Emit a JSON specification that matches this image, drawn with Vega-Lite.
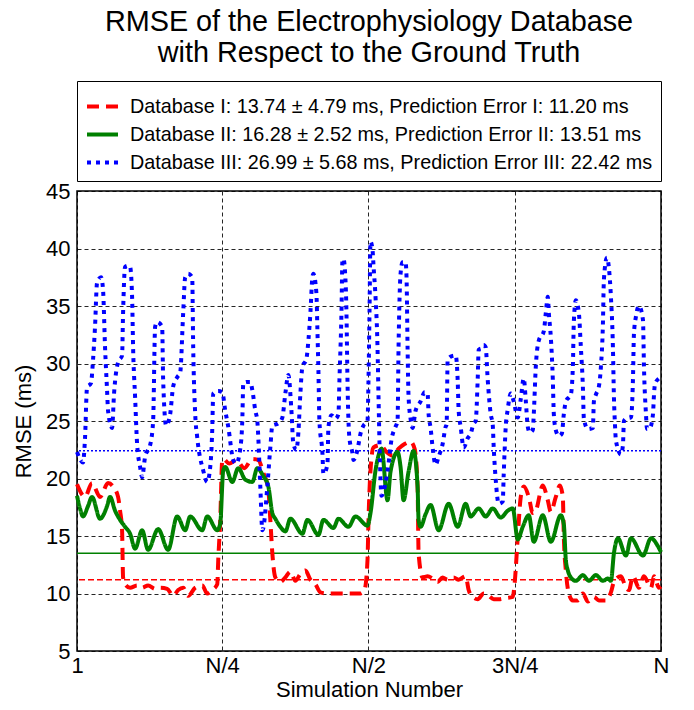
{
  "$schema": "https://vega.github.io/schema/vega-lite/v6.json",
  "width": 584,
  "height": 460,
  "autosize": {"type": "none"},
  "padding": {"left": 77, "top": 191, "right": 33, "bottom": 59},
  "title": {
    "text": ["RMSE of the Electrophysiology Database", "with Respect to the Ground Truth"],
    "font": "Liberation Sans",
    "fontSize": 28.8,
    "fontWeight": "normal",
    "color": "black",
    "lineHeight": 31,
    "anchor": "middle",
    "offset": 13
  },
  "datasets": {
    "errors": [
      {"series": "Database I", "error": 11.20},
      {"series": "Database II", "error": 13.51},
      {"series": "Database III", "error": 22.42}
    ],
    "curves": [
      {"series":"Database I","sim":1,"rmse":19.5},{"series":"Database I","sim":9,"rmse":18.4},{"series":"Database I","sim":16,"rmse":19.6},{"series":"Database I","sim":24,"rmse":18.4},{"series":"Database I","sim":32,"rmse":19.6},{"series":"Database I","sim":37,"rmse":19.3},{"series":"Database I","sim":42,"rmse":18.4},{"series":"Database I","sim":44,"rmse":17.2},{"series":"Database I","sim":46,"rmse":15.5},{"series":"Database I","sim":47,"rmse":11.4},{"series":"Database I","sim":49,"rmse":10.8},{"series":"Database I","sim":54,"rmse":10.5},{"series":"Database I","sim":61,"rmse":10.7},{"series":"Database I","sim":66,"rmse":10.5},{"series":"Database I","sim":72,"rmse":10.7},{"series":"Database I","sim":79,"rmse":10.4},{"series":"Database I","sim":84,"rmse":10.5},{"series":"Database I","sim":91,"rmse":10.4},{"series":"Database I","sim":97,"rmse":9.8},{"series":"Database I","sim":102,"rmse":10.3},{"series":"Database I","sim":107,"rmse":10.5},{"series":"Database I","sim":112,"rmse":9.8},{"series":"Database I","sim":119,"rmse":10.5},{"series":"Database I","sim":126,"rmse":10.7},{"series":"Database I","sim":131,"rmse":10.0},{"series":"Database I","sim":136,"rmse":10.3},{"series":"Database I","sim":141,"rmse":10.8},{"series":"Database I","sim":142,"rmse":12.9},{"series":"Database I","sim":144,"rmse":16.4},{"series":"Database I","sim":146,"rmse":21.6},{"series":"Database I","sim":147,"rmse":21.7},{"series":"Database I","sim":153,"rmse":21.3},{"series":"Database I","sim":160,"rmse":21.6},{"series":"Database I","sim":168,"rmse":20.9},{"series":"Database I","sim":176,"rmse":21.7},{"series":"Database I","sim":182,"rmse":21.6},{"series":"Database I","sim":187,"rmse":20.5},{"series":"Database I","sim":192,"rmse":19.0},{"series":"Database I","sim":194,"rmse":16.4},{"series":"Database I","sim":196,"rmse":13.5},{"series":"Database I","sim":199,"rmse":11.4},{"series":"Database I","sim":204,"rmse":11.0},{"series":"Database I","sim":209,"rmse":11.4},{"series":"Database I","sim":214,"rmse":11.9},{"series":"Database I","sim":219,"rmse":11.1},{"series":"Database I","sim":224,"rmse":11.7},{"series":"Database I","sim":229,"rmse":12.0},{"series":"Database I","sim":234,"rmse":11.2},{"series":"Database I","sim":239,"rmse":10.8},{"series":"Database I","sim":244,"rmse":10.1},{"series":"Database I","sim":251,"rmse":10.0},{"series":"Database I","sim":261,"rmse":10.0},{"series":"Database I","sim":271,"rmse":10.0},{"series":"Database I","sim":284,"rmse":10.0},{"series":"Database I","sim":288,"rmse":10.3},{"series":"Database I","sim":291,"rmse":12.9},{"series":"Database I","sim":292,"rmse":16.4},{"series":"Database I","sim":294,"rmse":20.7},{"series":"Database I","sim":297,"rmse":22.7},{"series":"Database I","sim":304,"rmse":22.9},{"series":"Database I","sim":310,"rmse":22.3},{"series":"Database I","sim":316,"rmse":22.0},{"series":"Database I","sim":322,"rmse":22.6},{"series":"Database I","sim":328,"rmse":23.0},{"series":"Database I","sim":334,"rmse":23.2},{"series":"Database I","sim":338,"rmse":22.6},{"series":"Database I","sim":341,"rmse":19.3},{"series":"Database I","sim":342,"rmse":13.5},{"series":"Database I","sim":346,"rmse":11.4},{"series":"Database I","sim":351,"rmse":11.5},{"series":"Database I","sim":356,"rmse":11.3},{"series":"Database I","sim":361,"rmse":11.0},{"series":"Database I","sim":366,"rmse":11.4},{"series":"Database I","sim":371,"rmse":11.2},{"series":"Database I","sim":377,"rmse":11.4},{"series":"Database I","sim":382,"rmse":11.2},{"series":"Database I","sim":389,"rmse":11.5},{"series":"Database I","sim":392,"rmse":10.3},{"series":"Database I","sim":396,"rmse":9.7},{"series":"Database I","sim":401,"rmse":9.5},{"series":"Database I","sim":407,"rmse":10.0},{"series":"Database I","sim":412,"rmse":9.8},{"series":"Database I","sim":417,"rmse":9.5},{"series":"Database I","sim":422,"rmse":9.5},{"series":"Database I","sim":429,"rmse":9.6},{"series":"Database I","sim":436,"rmse":9.7},{"series":"Database I","sim":438,"rmse":11.0},{"series":"Database I","sim":441,"rmse":14.9},{"series":"Database I","sim":444,"rmse":18.4},{"series":"Database I","sim":447,"rmse":19.3},{"series":"Database I","sim":452,"rmse":18.4},{"series":"Database I","sim":456,"rmse":17.0},{"series":"Database I","sim":459,"rmse":17.2},{"series":"Database I","sim":466,"rmse":19.4},{"series":"Database I","sim":471,"rmse":18.1},{"series":"Database I","sim":474,"rmse":17.1},{"series":"Database I","sim":479,"rmse":18.4},{"series":"Database I","sim":483,"rmse":19.4},{"series":"Database I","sim":486,"rmse":18.4},{"series":"Database I","sim":487,"rmse":14.9},{"series":"Database I","sim":489,"rmse":12.0},{"series":"Database I","sim":492,"rmse":10.0},{"series":"Database I","sim":496,"rmse":9.4},{"series":"Database I","sim":501,"rmse":9.4},{"series":"Database I","sim":506,"rmse":10.0},{"series":"Database I","sim":511,"rmse":9.3},{"series":"Database I","sim":517,"rmse":9.7},{"series":"Database I","sim":522,"rmse":9.4},{"series":"Database I","sim":529,"rmse":9.4},{"series":"Database I","sim":534,"rmse":10.1},{"series":"Database I","sim":537,"rmse":11.0},{"series":"Database I","sim":544,"rmse":11.5},{"series":"Database I","sim":549,"rmse":10.5},{"series":"Database I","sim":552,"rmse":10.3},{"series":"Database I","sim":556,"rmse":11.5},{"series":"Database I","sim":562,"rmse":10.5},{"series":"Database I","sim":567,"rmse":11.5},{"series":"Database I","sim":574,"rmse":10.5},{"series":"Database I","sim":577,"rmse":11.5},{"series":"Database I","sim":582,"rmse":10.5},{"series":"Database I","sim":584,"rmse":10.6},
      {"series":"Database II","sim":1,"rmse":18.5},{"series":"Database II","sim":4,"rmse":17.4},{"series":"Database II","sim":7,"rmse":16.7},{"series":"Database II","sim":12,"rmse":17.6},{"series":"Database II","sim":16,"rmse":18.4},{"series":"Database II","sim":24,"rmse":16.5},{"series":"Database II","sim":31,"rmse":17.6},{"series":"Database II","sim":34,"rmse":18.4},{"series":"Database II","sim":39,"rmse":17.2},{"series":"Database II","sim":44,"rmse":16.4},{"series":"Database II","sim":49,"rmse":15.8},{"series":"Database II","sim":54,"rmse":15.2},{"series":"Database II","sim":59,"rmse":13.9},{"series":"Database II","sim":66,"rmse":15.5},{"series":"Database II","sim":72,"rmse":13.8},{"series":"Database II","sim":82,"rmse":15.6},{"series":"Database II","sim":92,"rmse":13.8},{"series":"Database II","sim":101,"rmse":16.7},{"series":"Database II","sim":109,"rmse":15.5},{"series":"Database II","sim":114,"rmse":16.7},{"series":"Database II","sim":126,"rmse":15.5},{"series":"Database II","sim":131,"rmse":16.7},{"series":"Database II","sim":141,"rmse":15.5},{"series":"Database II","sim":144,"rmse":16.1},{"series":"Database II","sim":147,"rmse":20.7},{"series":"Database II","sim":149,"rmse":21.0},{"series":"Database II","sim":156,"rmse":19.7},{"series":"Database II","sim":162,"rmse":20.9},{"series":"Database II","sim":169,"rmse":19.9},{"series":"Database II","sim":176,"rmse":19.7},{"series":"Database II","sim":181,"rmse":20.9},{"series":"Database II","sim":187,"rmse":20.2},{"series":"Database II","sim":192,"rmse":19.3},{"series":"Database II","sim":196,"rmse":17.0},{"series":"Database II","sim":199,"rmse":16.5},{"series":"Database II","sim":204,"rmse":15.8},{"series":"Database II","sim":209,"rmse":15.4},{"series":"Database II","sim":214,"rmse":16.5},{"series":"Database II","sim":226,"rmse":15.2},{"series":"Database II","sim":231,"rmse":16.4},{"series":"Database II","sim":242,"rmse":15.1},{"series":"Database II","sim":247,"rmse":16.4},{"series":"Database II","sim":257,"rmse":15.7},{"series":"Database II","sim":262,"rmse":16.5},{"series":"Database II","sim":272,"rmse":15.8},{"series":"Database II","sim":279,"rmse":16.7},{"series":"Database II","sim":291,"rmse":15.9},{"series":"Database II","sim":294,"rmse":17.0},{"series":"Database II","sim":299,"rmse":20.7},{"series":"Database II","sim":302,"rmse":22.0},{"series":"Database II","sim":305,"rmse":22.6},{"series":"Database II","sim":311,"rmse":18.1},{"series":"Database II","sim":314,"rmse":20.6},{"series":"Database II","sim":321,"rmse":22.3},{"series":"Database II","sim":324,"rmse":21.0},{"series":"Database II","sim":327,"rmse":18.1},{"series":"Database II","sim":332,"rmse":20.6},{"series":"Database II","sim":337,"rmse":22.4},{"series":"Database II","sim":341,"rmse":19.3},{"series":"Database II","sim":342,"rmse":16.4},{"series":"Database II","sim":344,"rmse":15.8},{"series":"Database II","sim":349,"rmse":16.9},{"series":"Database II","sim":354,"rmse":17.7},{"series":"Database II","sim":362,"rmse":15.5},{"series":"Database II","sim":372,"rmse":17.8},{"series":"Database II","sim":381,"rmse":15.8},{"series":"Database II","sim":389,"rmse":17.8},{"series":"Database II","sim":394,"rmse":16.7},{"series":"Database II","sim":402,"rmse":17.4},{"series":"Database II","sim":409,"rmse":16.7},{"series":"Database II","sim":416,"rmse":17.4},{"series":"Database II","sim":424,"rmse":16.6},{"series":"Database II","sim":431,"rmse":17.2},{"series":"Database II","sim":436,"rmse":17.4},{"series":"Database II","sim":441,"rmse":14.7},{"series":"Database II","sim":446,"rmse":15.8},{"series":"Database II","sim":452,"rmse":16.8},{"series":"Database II","sim":457,"rmse":14.5},{"series":"Database II","sim":466,"rmse":16.8},{"series":"Database II","sim":474,"rmse":14.5},{"series":"Database II","sim":484,"rmse":16.8},{"series":"Database II","sim":487,"rmse":16.0},{"series":"Database II","sim":489,"rmse":12.9},{"series":"Database II","sim":491,"rmse":12.0},{"series":"Database II","sim":494,"rmse":11.4},{"series":"Database II","sim":499,"rmse":11.1},{"series":"Database II","sim":506,"rmse":11.6},{"series":"Database II","sim":512,"rmse":11.1},{"series":"Database II","sim":519,"rmse":11.6},{"series":"Database II","sim":526,"rmse":11.1},{"series":"Database II","sim":531,"rmse":11.3},{"series":"Database II","sim":534,"rmse":11.1},{"series":"Database II","sim":537,"rmse":13.5},{"series":"Database II","sim":541,"rmse":14.8},{"series":"Database II","sim":549,"rmse":13.3},{"series":"Database II","sim":554,"rmse":14.8},{"series":"Database II","sim":566,"rmse":13.3},{"series":"Database II","sim":574,"rmse":14.8},{"series":"Database II","sim":581,"rmse":14.1},{"series":"Database II","sim":584,"rmse":13.6},
      {"series":"Database III","sim":1,"rmse":22.3},{"series":"Database III","sim":7,"rmse":21.4},{"series":"Database III","sim":9,"rmse":23.5},{"series":"Database III","sim":11,"rmse":27.9},{"series":"Database III","sim":15,"rmse":28.3},{"series":"Database III","sim":17,"rmse":30.3},{"series":"Database III","sim":19,"rmse":33.2},{"series":"Database III","sim":21,"rmse":37.0},{"series":"Database III","sim":25,"rmse":37.5},{"series":"Database III","sim":27,"rmse":36.4},{"series":"Database III","sim":29,"rmse":31.4},{"series":"Database III","sim":31,"rmse":27.7},{"series":"Database III","sim":32,"rmse":25.9},{"series":"Database III","sim":36,"rmse":24.4},{"series":"Database III","sim":38,"rmse":27.4},{"series":"Database III","sim":42,"rmse":30.1},{"series":"Database III","sim":46,"rmse":30.7},{"series":"Database III","sim":47,"rmse":34.4},{"series":"Database III","sim":49,"rmse":38.4},{"series":"Database III","sim":52,"rmse":38.5},{"series":"Database III","sim":54,"rmse":38.4},{"series":"Database III","sim":56,"rmse":35.8},{"series":"Database III","sim":57,"rmse":31.4},{"series":"Database III","sim":59,"rmse":27.1},{"series":"Database III","sim":61,"rmse":23.0},{"series":"Database III","sim":64,"rmse":21.0},{"series":"Database III","sim":66,"rmse":20.1},{"series":"Database III","sim":69,"rmse":21.9},{"series":"Database III","sim":74,"rmse":22.9},{"series":"Database III","sim":77,"rmse":25.0},{"series":"Database III","sim":79,"rmse":33.2},{"series":"Database III","sim":81,"rmse":33.6},{"series":"Database III","sim":86,"rmse":33.2},{"series":"Database III","sim":87,"rmse":28.6},{"series":"Database III","sim":90,"rmse":24.6},{"series":"Database III","sim":94,"rmse":25.6},{"series":"Database III","sim":97,"rmse":28.0},{"series":"Database III","sim":101,"rmse":28.8},{"series":"Database III","sim":104,"rmse":29.2},{"series":"Database III","sim":107,"rmse":34.4},{"series":"Database III","sim":109,"rmse":37.5},{"series":"Database III","sim":112,"rmse":37.8},{"series":"Database III","sim":116,"rmse":37.5},{"series":"Database III","sim":117,"rmse":31.4},{"series":"Database III","sim":119,"rmse":25.6},{"series":"Database III","sim":121,"rmse":23.6},{"series":"Database III","sim":127,"rmse":20.7},{"series":"Database III","sim":131,"rmse":19.7},{"series":"Database III","sim":134,"rmse":21.0},{"series":"Database III","sim":136,"rmse":24.2},{"series":"Database III","sim":137,"rmse":27.4},{"series":"Database III","sim":142,"rmse":27.6},{"series":"Database III","sim":146,"rmse":27.5},{"series":"Database III","sim":149,"rmse":25.9},{"series":"Database III","sim":152,"rmse":24.5},{"series":"Database III","sim":157,"rmse":21.6},{"series":"Database III","sim":160,"rmse":21.3},{"series":"Database III","sim":164,"rmse":22.6},{"series":"Database III","sim":166,"rmse":25.0},{"series":"Database III","sim":167,"rmse":28.3},{"series":"Database III","sim":171,"rmse":28.4},{"series":"Database III","sim":174,"rmse":28.4},{"series":"Database III","sim":176,"rmse":27.7},{"series":"Database III","sim":179,"rmse":25.9},{"series":"Database III","sim":181,"rmse":25.0},{"series":"Database III","sim":184,"rmse":19.3},{"series":"Database III","sim":186,"rmse":15.5},{"series":"Database III","sim":187,"rmse":15.7},{"series":"Database III","sim":191,"rmse":19.3},{"series":"Database III","sim":194,"rmse":22.7},{"series":"Database III","sim":196,"rmse":24.6},{"series":"Database III","sim":202,"rmse":24.8},{"series":"Database III","sim":206,"rmse":25.3},{"series":"Database III","sim":209,"rmse":27.4},{"series":"Database III","sim":212,"rmse":29.0},{"series":"Database III","sim":215,"rmse":26.0},{"series":"Database III","sim":217,"rmse":23.0},{"series":"Database III","sim":220,"rmse":22.5},{"series":"Database III","sim":222,"rmse":24.0},{"series":"Database III","sim":224,"rmse":27.4},{"series":"Database III","sim":226,"rmse":29.7},{"series":"Database III","sim":230,"rmse":30.4},{"series":"Database III","sim":232,"rmse":32.0},{"series":"Database III","sim":234,"rmse":34.4},{"series":"Database III","sim":236,"rmse":37.5},{"series":"Database III","sim":237,"rmse":37.8},{"series":"Database III","sim":240,"rmse":36.1},{"series":"Database III","sim":241,"rmse":32.9},{"series":"Database III","sim":242,"rmse":29.4},{"series":"Database III","sim":243,"rmse":25.0},{"series":"Database III","sim":246,"rmse":22.2},{"series":"Database III","sim":247,"rmse":20.4},{"series":"Database III","sim":251,"rmse":21.2},{"series":"Database III","sim":252,"rmse":24.5},{"series":"Database III","sim":255,"rmse":25.5},{"series":"Database III","sim":259,"rmse":25.2},{"series":"Database III","sim":262,"rmse":25.6},{"series":"Database III","sim":263,"rmse":28.6},{"series":"Database III","sim":265,"rmse":34.4},{"series":"Database III","sim":266,"rmse":39.0},{"series":"Database III","sim":267,"rmse":39.1},{"series":"Database III","sim":269,"rmse":37.3},{"series":"Database III","sim":270,"rmse":34.4},{"series":"Database III","sim":271,"rmse":28.6},{"series":"Database III","sim":272,"rmse":25.0},{"series":"Database III","sim":273,"rmse":23.5},{"series":"Database III","sim":276,"rmse":22.2},{"series":"Database III","sim":277,"rmse":21.6},{"series":"Database III","sim":281,"rmse":22.5},{"series":"Database III","sim":284,"rmse":23.9},{"series":"Database III","sim":287,"rmse":24.6},{"series":"Database III","sim":291,"rmse":25.0},{"series":"Database III","sim":292,"rmse":28.6},{"series":"Database III","sim":293,"rmse":34.4},{"series":"Database III","sim":294,"rmse":40.6},{"series":"Database III","sim":296,"rmse":39.9},{"series":"Database III","sim":297,"rmse":38.5},{"series":"Database III","sim":299,"rmse":35.8},{"series":"Database III","sim":301,"rmse":31.4},{"series":"Database III","sim":302,"rmse":27.1},{"series":"Database III","sim":303,"rmse":23.0},{"series":"Database III","sim":305,"rmse":18.5},{"series":"Database III","sim":309,"rmse":19.6},{"series":"Database III","sim":312,"rmse":21.3},{"series":"Database III","sim":315,"rmse":23.4},{"series":"Database III","sim":319,"rmse":24.5},{"series":"Database III","sim":321,"rmse":25.0},{"series":"Database III","sim":322,"rmse":31.4},{"series":"Database III","sim":324,"rmse":37.8},{"series":"Database III","sim":326,"rmse":38.8},{"series":"Database III","sim":329,"rmse":38.8},{"series":"Database III","sim":330,"rmse":37.4},{"series":"Database III","sim":331,"rmse":31.4},{"series":"Database III","sim":332,"rmse":27.1},{"series":"Database III","sim":334,"rmse":25.2},{"series":"Database III","sim":336,"rmse":24.4},{"series":"Database III","sim":339,"rmse":25.9},{"series":"Database III","sim":344,"rmse":26.7},{"series":"Database III","sim":348,"rmse":27.5},{"series":"Database III","sim":351,"rmse":27.4},{"series":"Database III","sim":352,"rmse":25.6},{"series":"Database III","sim":354,"rmse":24.4},{"series":"Database III","sim":356,"rmse":22.7},{"series":"Database III","sim":359,"rmse":21.2},{"series":"Database III","sim":362,"rmse":21.9},{"series":"Database III","sim":366,"rmse":23.0},{"series":"Database III","sim":369,"rmse":24.5},{"series":"Database III","sim":370,"rmse":24.7},{"series":"Database III","sim":371,"rmse":30.3},{"series":"Database III","sim":374,"rmse":30.6},{"series":"Database III","sim":379,"rmse":30.7},{"series":"Database III","sim":381,"rmse":28.6},{"series":"Database III","sim":382,"rmse":25.9},{"series":"Database III","sim":384,"rmse":24.5},{"series":"Database III","sim":387,"rmse":22.7},{"series":"Database III","sim":391,"rmse":23.5},{"series":"Database III","sim":394,"rmse":23.9},{"series":"Database III","sim":397,"rmse":24.8},{"series":"Database III","sim":399,"rmse":25.0},{"series":"Database III","sim":401,"rmse":28.6},{"series":"Database III","sim":402,"rmse":31.2},{"series":"Database III","sim":406,"rmse":31.4},{"series":"Database III","sim":407,"rmse":31.6},{"series":"Database III","sim":409,"rmse":31.4},{"series":"Database III","sim":411,"rmse":28.6},{"series":"Database III","sim":414,"rmse":25.6},{"series":"Database III","sim":416,"rmse":24.7},{"series":"Database III","sim":417,"rmse":22.7},{"series":"Database III","sim":419,"rmse":19.9},{"series":"Database III","sim":422,"rmse":17.8},{"series":"Database III","sim":426,"rmse":18.0},{"series":"Database III","sim":427,"rmse":20.4},{"series":"Database III","sim":429,"rmse":24.5},{"series":"Database III","sim":431,"rmse":26.0},{"series":"Database III","sim":434,"rmse":27.4},{"series":"Database III","sim":437,"rmse":26.7},{"series":"Database III","sim":441,"rmse":25.3},{"series":"Database III","sim":444,"rmse":26.9},{"series":"Database III","sim":447,"rmse":28.7},{"series":"Database III","sim":449,"rmse":26.8},{"series":"Database III","sim":451,"rmse":24.5},{"series":"Database III","sim":453,"rmse":24.0},{"series":"Database III","sim":456,"rmse":24.2},{"series":"Database III","sim":457,"rmse":25.6},{"series":"Database III","sim":459,"rmse":29.7},{"series":"Database III","sim":462,"rmse":32.0},{"series":"Database III","sim":467,"rmse":32.8},{"series":"Database III","sim":469,"rmse":34.4},{"series":"Database III","sim":471,"rmse":35.8},{"series":"Database III","sim":472,"rmse":34.4},{"series":"Database III","sim":474,"rmse":32.3},{"series":"Database III","sim":476,"rmse":28.6},{"series":"Database III","sim":477,"rmse":25.6},{"series":"Database III","sim":479,"rmse":24.2},{"series":"Database III","sim":482,"rmse":23.7},{"series":"Database III","sim":485,"rmse":23.9},{"series":"Database III","sim":487,"rmse":25.6},{"series":"Database III","sim":489,"rmse":26.7},{"series":"Database III","sim":494,"rmse":27.3},{"series":"Database III","sim":496,"rmse":29.7},{"series":"Database III","sim":497,"rmse":33.7},{"series":"Database III","sim":499,"rmse":35.5},{"series":"Database III","sim":502,"rmse":34.4},{"series":"Database III","sim":504,"rmse":31.4},{"series":"Database III","sim":506,"rmse":28.0},{"series":"Database III","sim":507,"rmse":25.2},{"series":"Database III","sim":511,"rmse":24.3},{"series":"Database III","sim":516,"rmse":24.4},{"series":"Database III","sim":517,"rmse":26.7},{"series":"Database III","sim":519,"rmse":27.3},{"series":"Database III","sim":522,"rmse":28.0},{"series":"Database III","sim":524,"rmse":29.7},{"series":"Database III","sim":526,"rmse":33.4},{"series":"Database III","sim":527,"rmse":37.3},{"series":"Database III","sim":530,"rmse":39.2},{"series":"Database III","sim":532,"rmse":38.3},{"series":"Database III","sim":534,"rmse":35.8},{"series":"Database III","sim":536,"rmse":31.4},{"series":"Database III","sim":537,"rmse":27.1},{"series":"Database III","sim":538,"rmse":24.8},{"series":"Database III","sim":539,"rmse":23.3},{"series":"Database III","sim":544,"rmse":22.1},{"series":"Database III","sim":546,"rmse":22.9},{"series":"Database III","sim":547,"rmse":25.0},{"series":"Database III","sim":549,"rmse":25.2},{"series":"Database III","sim":554,"rmse":25.3},{"series":"Database III","sim":556,"rmse":28.6},{"series":"Database III","sim":557,"rmse":32.6},{"series":"Database III","sim":559,"rmse":34.1},{"series":"Database III","sim":562,"rmse":35.0},{"series":"Database III","sim":566,"rmse":33.8},{"series":"Database III","sim":567,"rmse":29.7},{"series":"Database III","sim":569,"rmse":25.6},{"series":"Database III","sim":570,"rmse":24.3},{"series":"Database III","sim":573,"rmse":24.4},{"series":"Database III","sim":576,"rmse":25.6},{"series":"Database III","sim":577,"rmse":27.3},{"series":"Database III","sim":578,"rmse":28.2},{"series":"Database III","sim":582,"rmse":28.7},{"series":"Database III","sim":584,"rmse":28.8}
    ]
  },
  "layer": [
    {
      "data": {"name": "errors"},
      "mark": {"type": "rule", "strokeWidth": 1.5},
      "encoding": {
        "y": {"field": "error", "type": "quantitative", "scale": {"domain": [5, 45], "nice": false, "zero": false}},
        "color": {"field": "series", "type": "nominal", "legend": null,
          "scale": {"domain": ["Database I", "Database II", "Database III"], "range": ["#ff0000", "#008000", "#0000ff"]}},
        "strokeDash": {"field": "series", "type": "nominal", "legend": null,
          "scale": {"domain": ["Database I", "Database II", "Database III"], "range": [[6, 3], [1, 0], [2, 2]]}}
      }
    },
    {
      "data": {"name": "curves"},
      "mark": {"type": "line", "strokeWidth": 4, "interpolate": "monotone", "strokeCap": "butt"},
      "encoding": {
        "x": {
          "field": "sim", "type": "quantitative",
          "scale": {"domain": [1, 584], "nice": false, "zero": false},
          "axis": {"title": "Simulation Number", "values": [1, 146, 292, 438, 584],
            "labelExpr": "datum.value == 1 ? '1' : datum.value == 146 ? 'N/4' : datum.value == 292 ? 'N/2' : datum.value == 438 ? '3N/4' : 'N'",
            "labelPadding": 4, "titlePadding": 3}
        },
        "y": {
          "field": "rmse", "type": "quantitative",
          "scale": {"domain": [5, 45], "nice": false, "zero": false},
          "axis": {"title": "RMSE (ms)", "values": [5, 10, 15, 20, 25, 30, 35, 40, 45], "labelPadding": 7, "titlePadding": 10}
        },
        "color": {
          "field": "series", "type": "nominal",
          "scale": {"domain": ["Database I", "Database II", "Database III"], "range": ["#ff0000", "#008000", "#0000ff"]},
          "legend": {
            "labelExpr": "datum.label == 'Database I' ? 'Database I: 13.74 ± 4.79 ms, Prediction Error I: 11.20 ms' : datum.label == 'Database II' ? 'Database II: 16.28 ± 2.52 ms, Prediction Error II: 13.51 ms' : 'Database III: 26.99 ± 5.68 ms, Prediction Error III: 22.42 ms'"
          }
        },
        "strokeDash": {
          "field": "series", "type": "nominal",
          "scale": {"domain": ["Database I", "Database II", "Database III"], "range": [[12, 7], [1, 0], [4, 5]]},
          "legend": {
            "labelExpr": "datum.label == 'Database I' ? 'Database I: 13.74 ± 4.79 ms, Prediction Error I: 11.20 ms' : datum.label == 'Database II' ? 'Database II: 16.28 ± 2.52 ms, Prediction Error II: 13.51 ms' : 'Database III: 26.99 ± 5.68 ms, Prediction Error III: 22.42 ms'"
          }
        }
      }
    }
  ],
  "resolve": {"scale": {"strokeDash": "independent", "color": "independent"}},
  "config": {
    "font": "Liberation Sans",
    "view": {"stroke": "black", "strokeWidth": 1.5},
    "axis": {
      "labelFont": "Liberation Sans", "labelFontSize": 22, "labelColor": "black",
      "titleFont": "Liberation Sans", "titleFontSize": 22, "titleFontWeight": "normal", "titleColor": "black",
      "grid": true, "gridColor": "#000000", "gridDash": [4, 3], "gridOpacity": 0.85, "gridWidth": 1,
      "domain": false, "ticks": false, "labelFlush": false
    },
    "legend": {
      "orient": "top", "direction": "vertical", "title": null,
      "symbolType": "stroke", "symbolSize": 961, "symbolStrokeWidth": 4,
      "labelFont": "Liberation Sans", "labelFontSize": 19.8, "labelColor": "black", "labelLimit": 800, "labelOffset": 10,
      "strokeColor": "black", "fillColor": "white", "padding": 8, "rowPadding": 0, "offset": 10
    }
  }
}
